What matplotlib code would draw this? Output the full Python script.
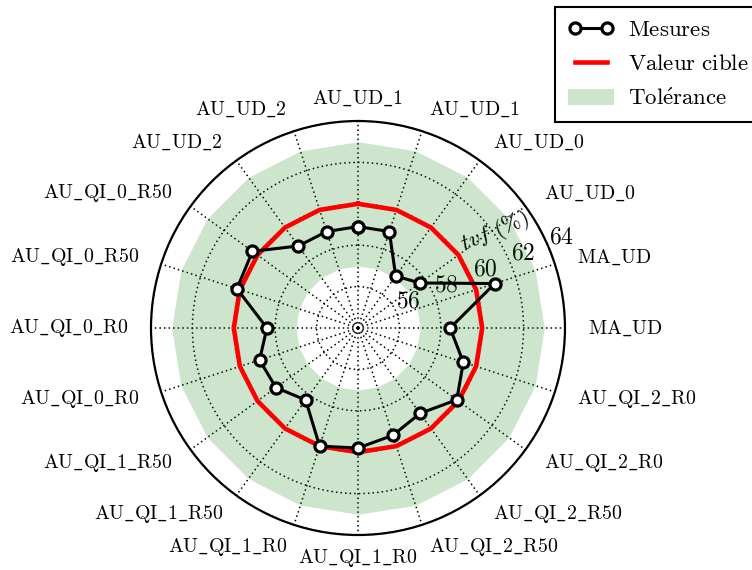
import numpy as np
import matplotlib
matplotlib.use("Agg")
import matplotlib.pyplot as plt

plt.rcParams['mathtext.fontset'] = 'cm'
plt.rcParams['font.family'] = 'serif'
plt.rcParams['font.serif'] = ['cmr10', 'DejaVu Serif']
plt.rcParams['axes.formatter.use_mathtext'] = True

categories = ['AU_UD_1', 'AU_UD_1', 'AU_UD_0', 'AU_UD_0', 'MA_UD', 'MA_UD',
              'AU_QI_2_R0', 'AU_QI_2_R0', 'AU_QI_2_R50', 'AU_QI_2_R50',
              'AU_QI_1_R0', 'AU_QI_1_R0', 'AU_QI_1_R50', 'AU_QI_1_R50',
              'AU_QI_0_R0', 'AU_QI_0_R0', 'AU_QI_0_R50', 'AU_QI_0_R50',
              'AU_UD_2', 'AU_UD_2']
mesures = [58.9, 58.9, 57.1, 57.7, 60.95, 58.45, 59.35, 59.9, 59.1, 59.45,
           59.8, 60.0, 58.3, 58.9, 59.0, 58.4, 60.15, 60.3, 58.9, 58.9]
cible = 60
tol_min = 57
tol_max = 63
rticks = [56, 58, 60, 62, 64]

n = len(categories)
theta = np.linspace(0, 2 * np.pi, n, endpoint=False)
theta_c = np.append(theta, theta[0])
mes_c = np.append(mesures, mesures[0])

fig = plt.figure(figsize=(7.52, 5.70), dpi=100)
ax = fig.add_axes([0.2008, 0.0614, 0.5505, 0.7263], projection='polar')
ax.set_theta_zero_location('N')
ax.set_theta_direction(-1)
ax.set_axisbelow(True)

ax.fill_between(theta_c, np.full(n + 1, tol_min), np.full(n + 1, tol_max),
                color='green', alpha=0.2, lw=0, label=r"$\mathrm{Tol\'{e}rance}$")
ax.plot(theta_c, np.full(n + 1, cible), color='red', lw=3.3,
        label=r'$\mathrm{Valeur\ cible}$', zorder=3)
ax.plot(theta_c, mes_c, color='black', lw=2.2, marker='o', ms=8,
        mfc='white', mec='black', mew=2.3, label=r'$\mathrm{Mesures}$', zorder=4)

ax.set_ylim(54, 64)
ax.set_yticks(rticks)
ax.set_yticklabels([r'$%d$' % v for v in rticks], fontsize=17)
ax.set_rlabel_position(67.5)

ax.set_xticks(theta)
ax.set_xticklabels([r'$\mathrm{%s}$' % c.replace('_', r'\_') for c in categories],
                   fontsize=14.3)
ax.tick_params(axis='x', pad=6)
for lab, t in zip(ax.get_xticklabels(), theta):
    s = np.sin(t)
    if abs(s) < 0.01:
        lab.set_horizontalalignment('center')
    else:
        lab.set_horizontalalignment('left' if s > 0 else 'right')
    lab.set_verticalalignment('center')

ax.grid(color='black', ls=(0, (1, 2)), lw=1.1)
ax.spines['polar'].set_linewidth(1.6)

ax.text(np.deg2rad(55.0), 62.1, r'$tvf\ (\%)$', rotation=22.5,
        ha='center', va='center', fontsize=16)

h, l = ax.get_legend_handles_labels()
order = [2, 1, 0]
leg = fig.legend([h[i] for i in order], [l[i] for i in order], loc='upper left',
                 bbox_to_anchor=(555 / 752, 1 - 7 / 570), fancybox=False,
                 edgecolor='black', framealpha=1, numpoints=2, fontsize=16.5,
                 borderaxespad=0, labelspacing=0.6, borderpad=0.57,
                 handletextpad=0.6)
leg.get_frame().set_linewidth(1.5)

fig.savefig('out.png', dpi=100)
